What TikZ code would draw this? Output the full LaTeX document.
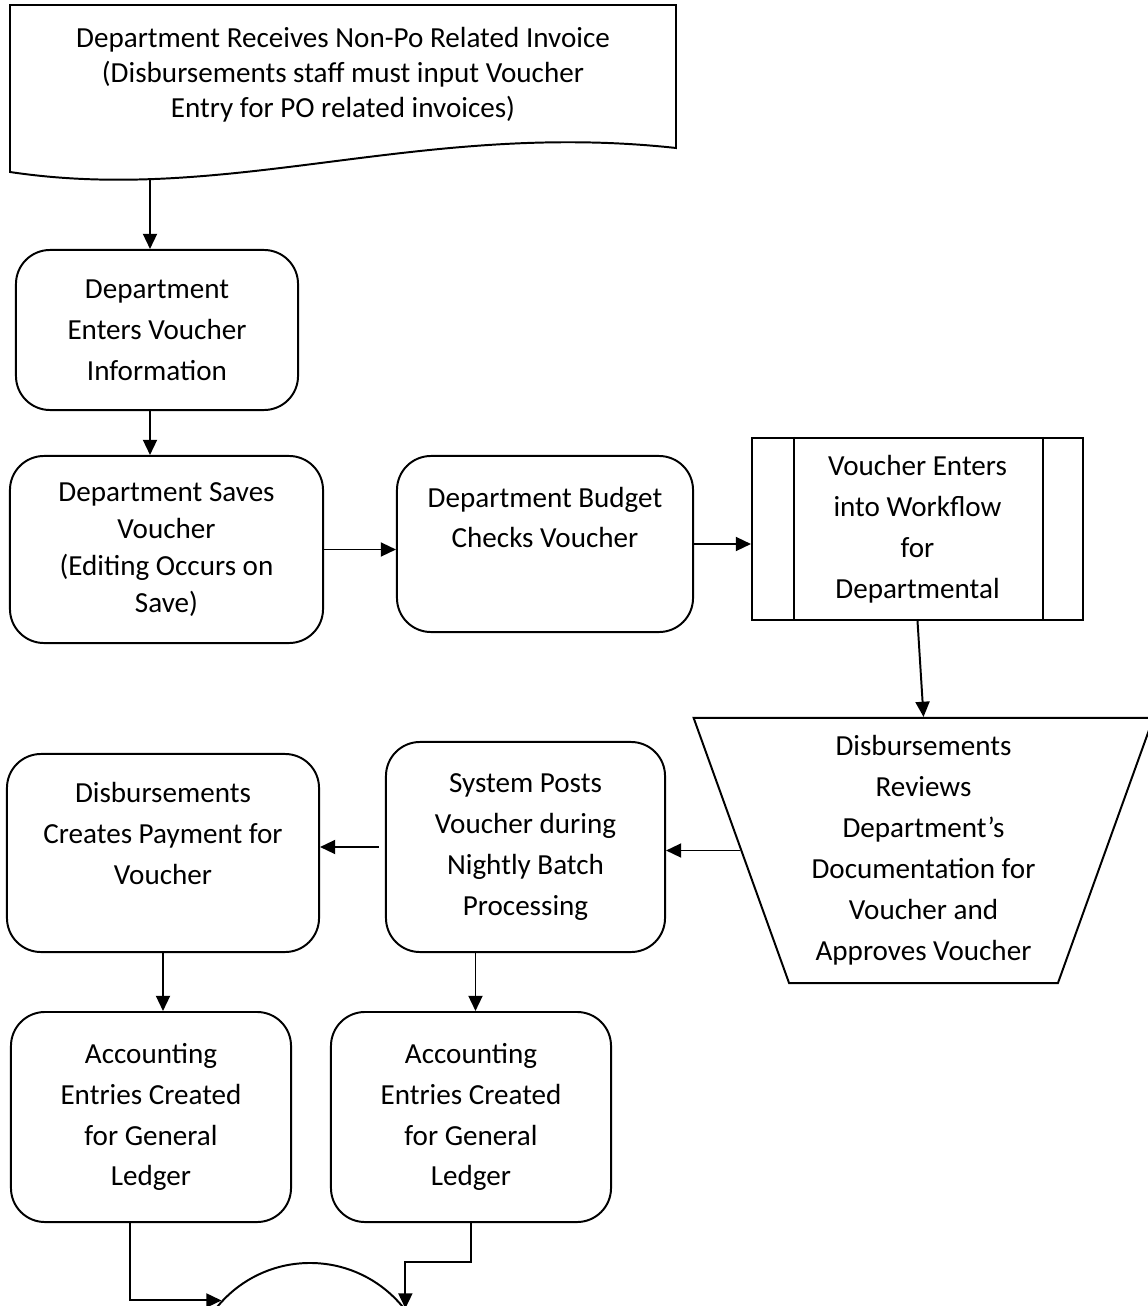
\documentclass[tikz,border=0pt]{standalone}
\usepackage{fontspec}
\setmainfont{Carlito}
\usetikzlibrary{shapes.geometric,arrows.meta}

\begin{document}
\begin{tikzpicture}[
    x=0.025cm, y=-0.025cm,
    every node/.style={font=\fontsize{20.7}{29.1}\selectfont, align=center},
    thickline/.style={line width=1.4pt},
    box/.style={thickline, draw, rounded corners=0.85cm, inner sep=0pt},
    arr/.style={thickline, -{Triangle[length=0.38cm,width=0.35cm]}}
]
\useasboundingbox (0,0) rectangle (1147,1306);

% Document shape at the top
\draw[thickline] (10,172) -- (10,5) -- (676,5) -- (676,148) .. controls (420,120) and (230,205) .. (10,172) -- cycle;
\node[font=\fontsize{20.7}{24.9}\selectfont] (doc) at (343,74.5) {Department Receives Non-Po Related Invoice\\(Disbursements staff must input Voucher\\Entry for PO related invoices)};
\coordinate (docb) at (150,179);

% Process boxes
\node[box, minimum width=7.05cm, minimum height=4cm] (ent) at (157,330) {Department\\Enters Voucher\\Information};
\node[box, minimum width=7.825cm, minimum height=4.675cm, font=\fontsize{20.7}{26.3}\selectfont] (save) at (166.5,549.5) {Department Saves\\Voucher\\(Editing Occurs on\\Save)};
\node[box, minimum width=7.4cm, minimum height=4.4cm] (budget) at (545,544) {Department Budget\\Checks Voucher\\\strut};

% Predefined process
\node[thickline, draw, minimum width=8.275cm, minimum height=4.55cm, inner sep=0pt] (wf) at (917.5,529) {Voucher Enters\\into Workflow\\for\\Departmental};
\draw[thickline] ([xshift=1.075cm]wf.north west) -- ([xshift=1.075cm]wf.south west);
\draw[thickline] ([xshift=-1.025cm]wf.north east) -- ([xshift=-1.025cm]wf.south east);

% Manual operation
\node[thickline, draw, trapezium, trapezium stretches=true, trapezium left angle=70.9, trapezium right angle=70.9, shape border rotate=180, minimum width=11.525cm, minimum height=6.625cm, inner sep=0pt] (rev) at (923.5,850.5) {Disbursements\\Reviews\\Department’s\\Documentation for\\Voucher and\\Approves Voucher};

\node[box, minimum width=6.975cm, minimum height=5.25cm] (post) at (525.5,847) {System Posts\\Voucher during\\Nightly Batch\\Processing};
\node[box, minimum width=7.8cm, minimum height=4.95cm] (pay) at (163,853) {Disbursements\\Creates Payment for\\Voucher\\[-0.35cm]\strut};

\node[box, minimum width=7cm, minimum height=5.25cm] (acct1) at (151,1117) {Accounting\\Entries Created\\for General\\Ledger};
\node[box, minimum width=7cm, minimum height=5.25cm] (acct2) at (471,1117) {Accounting\\Entries Created\\for General\\Ledger};

% Off-page connector
\node[thickline, draw, circle, minimum size=6cm] (circ) at (310,1383) {};

% Arrows
\draw[arr] (docb) -- (docb |- ent.north);
\draw[arr] (ent.south -| docb) -- (save.north -| docb);
\draw[arr] (save.east) -- (save.east -| budget.west);
\draw[arr] (budget.east) -- (budget.east -| wf.west);
\draw[arr] (wf.south) -- (rev.north);
\draw[arr] (rev.west) -- (rev.west -| post.east);
\draw[arr] ([xshift=-0.15cm]post.west) -- (post.west -| pay.east);
\draw[arr] (pay.south) -- (pay.south |- acct1.north);
\draw[arr] ([xshift=-1.25cm]post.south) -- ([xshift=-1.25cm]post.south |- acct2.north);
\draw[arr] ([xshift=-0.525cm]acct1.south) |- (circ.137);
\draw[arr] (acct2.south) -- ++(0,39) -| (circ.38);

\end{tikzpicture}
\end{document}
